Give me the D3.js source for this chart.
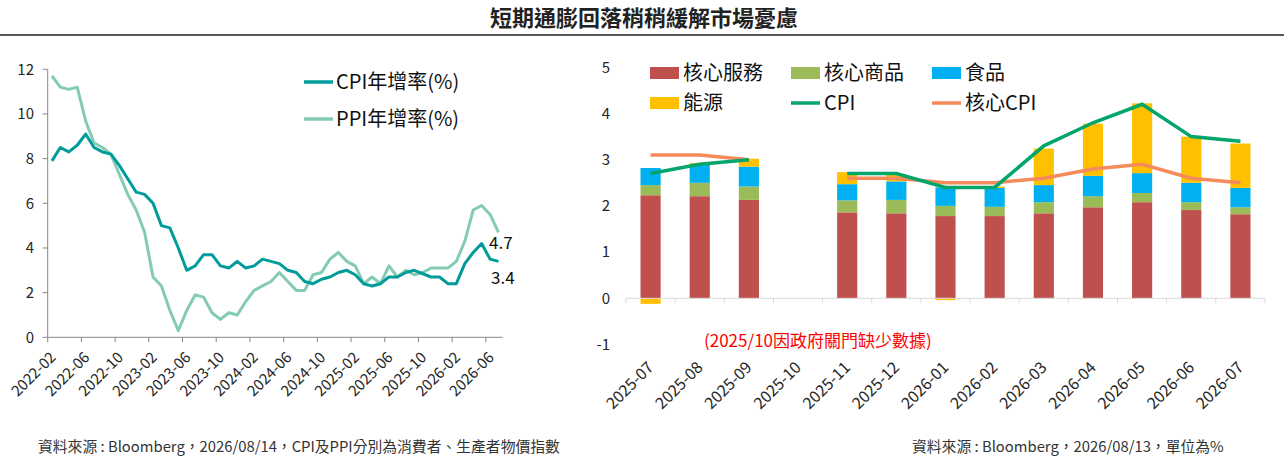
<!DOCTYPE html>
<html>
<head>
<meta charset="utf-8">
<script src="https://cdn.jsdelivr.net/npm/d3@7"></script>
<style>
  body { margin: 0; background: #fff; }
  svg { display: block; font-family: "Noto Sans CJK TC", "Noto Sans", sans-serif; }
</style>
</head>
<body>
<svg id="chart" width="1288" height="459"></svg>
<script>
// left chart data: CPI / PPI yoy, monthly
const monthsL = [
  "2022-02","2022-03","2022-04","2022-05","2022-06","2022-07","2022-08","2022-09","2022-10","2022-11","2022-12",
  "2023-01","2023-02","2023-03","2023-04","2023-05","2023-06","2023-07","2023-08","2023-09","2023-10","2023-11","2023-12",
  "2024-01","2024-02","2024-03","2024-04","2024-05","2024-06","2024-07","2024-08","2024-09","2024-10","2024-11","2024-12",
  "2025-01","2025-02","2025-03","2025-04","2025-05","2025-06","2025-07","2025-08","2025-09","2025-10","2025-11","2025-12",
  "2026-01","2026-02","2026-03","2026-04","2026-05","2026-06","2026-07"
];
const cpiL = [7.9,8.5,8.3,8.6,9.1,8.5,8.3,8.2,7.7,7.1,6.5,6.4,6.0,5.0,4.9,4.0,3.0,3.2,3.7,3.7,
  3.2,3.1,3.4,3.1,3.2,3.5,3.4,3.3,3.0,2.9,2.5,2.4,2.6,2.7,2.9,3.0,2.8,2.4,2.3,2.4,
  2.7,2.7,2.9,3.0,null,2.7,2.7,2.4,2.4,3.3,3.8,4.2,3.5,3.4];
const ppiL = [11.7,11.2,11.1,11.2,9.7,8.7,8.5,8.2,7.3,6.4,5.7,4.7,2.7,2.3,1.2,0.3,1.2,1.9,1.8,1.1,
  0.8,1.1,1.0,1.6,2.1,2.3,2.5,2.9,2.5,2.1,2.1,2.8,2.9,3.5,3.8,3.4,3.2,2.4,2.7,2.4,
  3.2,2.7,3.0,2.8,2.9,3.1,3.1,3.1,3.4,4.3,5.7,5.9,5.5,4.7];
const yTicksL = [0,2,4,6,8,10,12];

// right chart data: CPI contributions
const monthsR = ["2025-07","2025-08","2025-09","2025-10","2025-11","2025-12","2026-01",
  "2026-02","2026-03","2026-04","2026-05","2026-06","2026-07"];
const services = [2.23,2.21,2.13,null,1.86,1.84,1.78,1.78,1.84,1.97,2.08,1.91,1.82];
const goods    = [0.22,0.29,0.29,null,0.26,0.29,0.22,0.20,0.24,0.24,0.20,0.17,0.15];
const food     = [0.37,0.41,0.43,null,0.35,0.40,0.40,0.41,0.37,0.44,0.43,0.42,0.42];
const energy   = [-0.12,0.02,0.17,null,0.26,0.15,-0.04,0.03,0.79,1.13,1.51,1.00,0.96];
const cpiR     = [2.7,2.9,3.0,null,2.7,2.7,2.4,2.4,3.3,3.8,4.2,3.5,3.4];
const coreR    = [3.1,3.1,3.0,null,2.6,2.6,2.5,2.5,2.6,2.8,2.9,2.6,2.5];
const yTicksR = [-1,0,1,2,3,4,5];

const svg = d3.select("#chart");

// colors
const cpiColL = "#009c9a", ppiColL = "#84cbb4";
const colServ = "#c0504d", colGoods = "#9bbb59", colFood = "#00b0f0", colEnergy = "#ffc000";
const colCpiR = "#03a66a", colCoreR = "#f58a5b";
const axisCol = "#878787", textCol = "#262626";

// TITLE
svg.append("text")
  .attr("x", 644).attr("y", 26)
  .attr("text-anchor", "middle")
  .attr("font-size", 22).attr("font-weight", "bold")
  .attr("fill", "#222")
  .text("短期通膨回落稍稍緩解市場憂慮");
svg.append("line")
  .attr("x1", 0).attr("x2", 1284).attr("y1", 35).attr("y2", 35)
  .attr("stroke", "#222").attr("stroke-width", 1.5);

// LEFT CHART
const xL = d3.scaleBand().domain(monthsL).range([47.7, 502.7]).padding(0);
const yL = d3.scaleLinear().domain([0, 12]).range([337.3, 69.3]);
const gL = svg.append("g");

// y axis
gL.append("line").attr("x1", 47.7).attr("x2", 47.7).attr("y1", yL(12)).attr("y2", yL(0))
  .attr("stroke", axisCol);
yTicksL.forEach(function(t) {
  gL.append("line").attr("x1", 42.7).attr("x2", 47.7).attr("y1", yL(t)).attr("y2", yL(t))
    .attr("stroke", axisCol);
  gL.append("text").attr("x", 34).attr("y", yL(t)).attr("dy", "0.35em")
    .attr("text-anchor", "end").attr("font-size", 15).attr("fill", textCol)
    .text(t);
});
// x axis
gL.append("line").attr("x1", 47.7).attr("x2", 502.7).attr("y1", yL(0)).attr("y2", yL(0))
  .attr("stroke", axisCol);
monthsL.forEach(function(m, i) {
  if (i % 4 !== 0) return;
  const xs = xL(m);
  gL.append("line").attr("x1", xs).attr("x2", xs).attr("y1", yL(0)).attr("y2", yL(0) + 5)
    .attr("stroke", axisCol);
  gL.append("text")
    .attr("transform", "translate(" + (xs + 9) + "," + (yL(0) + 21) + ") rotate(-45)")
    .attr("text-anchor", "end").attr("font-size", 15).attr("fill", textCol)
    .text(m);
});

const lineL = d3.line()
  .x(function(d) { return xL(d.m) + xL.bandwidth() / 2; })
  .y(function(d) { return yL(d.v); });
const ppiPts = monthsL.map(function(m, i) { return {m: m, v: ppiL[i]}; }).filter(function(d) { return d.v != null; });
const cpiPts = monthsL.map(function(m, i) { return {m: m, v: cpiL[i]}; }).filter(function(d) { return d.v != null; });
gL.append("path").attr("d", lineL(ppiPts)).attr("fill", "none")
  .attr("stroke", ppiColL).attr("stroke-width", 3).attr("stroke-linejoin", "round");
gL.append("path").attr("d", lineL(cpiPts)).attr("fill", "none")
  .attr("stroke", cpiColL).attr("stroke-width", 3).attr("stroke-linejoin", "round");

// end labels
gL.append("text").attr("x", 489).attr("y", 243).attr("dy", "0.35em")
  .attr("font-size", 17).attr("fill", "#111").text(ppiL[ppiL.length - 1].toFixed(1));
gL.append("text").attr("x", 491).attr("y", 278).attr("dy", "0.35em")
  .attr("font-size", 17).attr("fill", "#111").text(cpiL[cpiL.length - 1].toFixed(1));

// legend
const legL = [{name: "CPI年增率(%)", col: cpiColL, y: 82}, {name: "PPI年增率(%)", col: ppiColL, y: 119}];
legL.forEach(function(d) {
  gL.append("line").attr("x1", 304).attr("x2", 333).attr("y1", d.y).attr("y2", d.y)
    .attr("stroke", d.col).attr("stroke-width", 3.5);
  gL.append("text").attr("x", 336).attr("y", d.y).attr("dy", "0.35em")
    .attr("font-size", 20).attr("fill", "#111").text(d.name);
});

// footer left
svg.append("text").attr("x", 38).attr("y", 452)
  .attr("font-size", 14.8).attr("fill", "#333")
  .text("資料來源 : Bloomberg，2026/08/14，CPI及PPI分別為消費者、生產者物價指數");

// RIGHT CHART
const xR = d3.scaleBand().domain(monthsR).range([626, 1265]).padding(0);
const yR = d3.scaleLinear().domain([-1, 5]).range([344.5, 67.3]);
const gR = svg.append("g");

yTicksR.forEach(function(t) {
  gR.append("text").attr("x", 610).attr("y", yR(t)).attr("dy", "0.35em")
    .attr("text-anchor", "end").attr("font-size", 15).attr("fill", textCol)
    .text(t);
});

const keys = ["services", "goods", "food", "energy"];
const colsR = {services: colServ, goods: colGoods, food: colFood, energy: colEnergy};
const rows = monthsR.map(function(m, i) {
  return {m: m, services: services[i] || 0, goods: goods[i] || 0, food: food[i] || 0, energy: energy[i] || 0, has: services[i] != null};
});
const stacked = d3.stack().keys(keys).offset(d3.stackOffsetDiverging)(rows);
const barW = xR.bandwidth() * 0.41;

stacked.forEach(function(layer) {
  gR.append("g").selectAll("rect")
    .data(layer.filter(function(d) { return d.data.has; }))
    .enter()
    .append("rect")
    .attr("x", function(d) { return xR(d.data.m) + (xR.bandwidth() - barW) / 2; })
    .attr("y", function(d) { return yR(Math.max(d[0], d[1])); })
    .attr("width", barW)
    .attr("height", function(d) { return Math.abs(yR(d[0]) - yR(d[1])); })
    .attr("fill", colsR[layer.key]);
});

// zero axis
gR.append("line").attr("x1", 626).attr("x2", 1265).attr("y1", yR(0)).attr("y2", yR(0))
  .attr("stroke", "#d9d9d9");
monthsR.forEach(function(m) {
  gR.append("line").attr("x1", xR(m)).attr("x2", xR(m)).attr("y1", yR(0)).attr("y2", yR(0) + 5)
    .attr("stroke", "#d9d9d9");
  gR.append("text")
    .attr("transform", "translate(" + (xR(m) + xR.bandwidth() / 2 + 4) + "," + (yR(-1) + 24) + ") rotate(-45)")
    .attr("text-anchor", "end").attr("font-size", 16).attr("fill", textCol)
    .text(m);
});
gR.append("line").attr("x1", 1265).attr("x2", 1265).attr("y1", yR(0)).attr("y2", yR(0) + 5)
  .attr("stroke", "#d9d9d9");

const lineR = d3.line()
  .defined(function(d) { return d.v != null; })
  .x(function(d) { return xR(d.m) + xR.bandwidth() / 2; })
  .y(function(d) { return yR(d.v); });
gR.append("path").attr("d", lineR(monthsR.map(function(m, i) { return {m: m, v: coreR[i]}; })))
  .attr("fill", "none").attr("stroke", colCoreR).attr("stroke-width", 3.5);
gR.append("path").attr("d", lineR(monthsR.map(function(m, i) { return {m: m, v: cpiR[i]}; })))
  .attr("fill", "none").attr("stroke", colCpiR).attr("stroke-width", 3.5);

// note
gR.append("text").attr("x", 704).attr("y", 341).attr("dy", "0.35em")
  .attr("font-size", 17).attr("fill", "#ff0000")
  .text("(2025/10因政府關門缺少數據)");

// legend right
const legR = [
  {name: "核心服務", col: colServ, type: "rect", x: 650, y: 73},
  {name: "核心商品", col: colGoods, type: "rect", x: 791, y: 73},
  {name: "食品", col: colFood, type: "rect", x: 932, y: 73},
  {name: "能源", col: colEnergy, type: "rect", x: 650, y: 103},
  {name: "CPI", col: colCpiR, type: "line", x: 791, y: 103},
  {name: "核心CPI", col: colCoreR, type: "line", x: 932, y: 103}
];
legR.forEach(function(d) {
  if (d.type === "rect") {
    gR.append("rect").attr("x", d.x).attr("y", d.y - 6).attr("width", 29).attr("height", 12)
      .attr("fill", d.col);
  } else {
    gR.append("line").attr("x1", d.x).attr("x2", d.x + 29).attr("y1", d.y).attr("y2", d.y)
      .attr("stroke", d.col).attr("stroke-width", 3.5);
  }
  gR.append("text").attr("x", d.x + 33).attr("y", d.y).attr("dy", "0.35em")
    .attr("font-size", 20).attr("fill", "#111").text(d.name);
});

// footer right
svg.append("text").attr("x", 912).attr("y", 452)
  .attr("font-size", 14.8).attr("fill", "#333")
  .text("資料來源 : Bloomberg，2026/08/13，單位為%");
</script>
</body>
</html>
